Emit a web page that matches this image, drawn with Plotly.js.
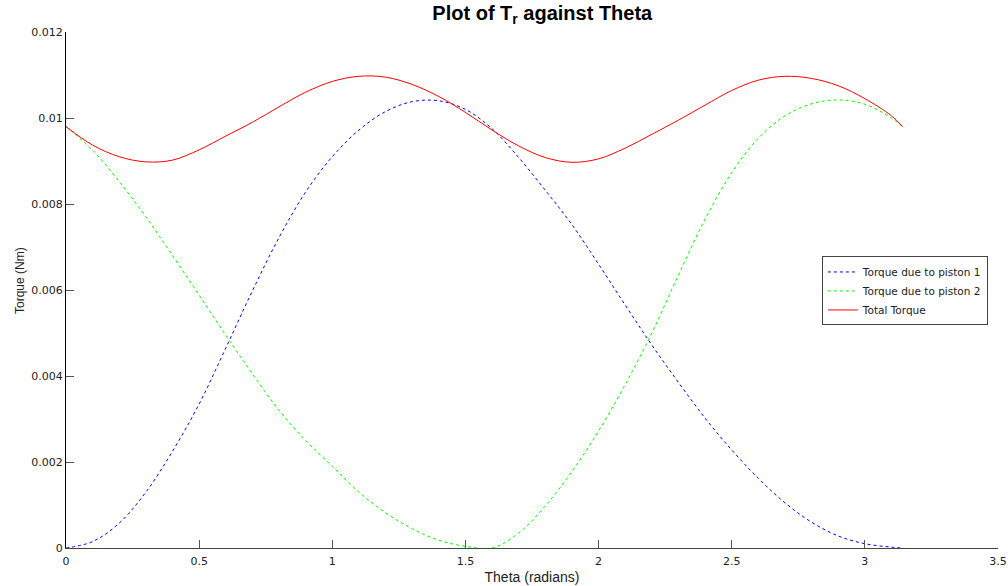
<!DOCTYPE html>
<html>
<head>
<meta charset="utf-8">
<script src="https://cdn.plot.ly/plotly-3.0.1.min.js"></script>
<style>html,body{margin:0;padding:0;background:#fff;}#chart{width:1008px;height:586px;}</style>
</head>
<body>
<div id="chart"></div>
<script>
// Theta (radians)
const theta = [0, 0.1, 0.2, 0.3, 0.4, 0.5, 0.6, 0.7, 0.8, 0.9, 1.0, 1.1, 1.2, 1.3, 1.4, 1.5, 1.6,
  1.7, 1.8, 1.9, 2.0, 2.1, 2.2, 2.3, 2.4, 2.5, 2.6, 2.7, 2.8, 2.9, 3.0, 3.1, 3.1416];
// Torque due to piston 1 (Nm)
const torquePiston1 = [0, 0.00015, 0.00058, 0.00130, 0.00225, 0.00335, 0.00465, 0.00598, 0.00722, 0.00828,
  0.00910, 0.00972, 0.01015, 0.01038, 0.01040, 0.01020, 0.00975, 0.00908, 0.00832, 0.00752, 0.00660,
  0.00565, 0.00472, 0.00385, 0.00302, 0.00228, 0.00162, 0.00105, 0.00060, 0.00028, 0.00010, 0.00002, 0];
// Torque due to piston 2 (Nm)
const torquePiston2 = [0.0098, 0.00925, 0.00852, 0.00770, 0.00680, 0.00588, 0.00495, 0.00405, 0.00320, 0.00250,
  0.00190, 0.00130, 0.00082, 0.00045, 0.00018, 0.00004, 0, 0.00035, 0.00098, 0.00178, 0.00272, 0.00380,
  0.00500, 0.00635, 0.00765, 0.00873, 0.00953, 0.01005, 0.01033, 0.01042, 0.01032, 0.01000, 0.0098];
// Total torque (Nm)
const torqueTotal = [0.0098, 0.00937, 0.0091, 0.00898, 0.00902, 0.00926, 0.00958, 0.0099, 0.01026, 0.0106,
  0.01085, 0.01097, 0.01095, 0.01078, 0.0105, 0.01013, 0.00972, 0.00935, 0.00908, 0.00897, 0.00905,
  0.0093, 0.00962, 0.00995, 0.0103, 0.01064, 0.01088, 0.01097, 0.01092, 0.01075, 0.01045, 0.01005, 0.0098];

const xTickVals = [0, 0.5, 1, 1.5, 2, 2.5, 3, 3.5];
const xTickText = ["0", "0.5", "1", "1.5", "2", "2.5", "3", "3.5"];
const yTickVals = [0, 0.002, 0.004, 0.006, 0.008, 0.01, 0.012];
const yTickText = ["0", "0.002", "0.004", "0.006", "0.008", "0.01", "0.012"];

const traces = [
  {x: theta, y: torquePiston1, mode: "lines", name: "Torque due to piston 1",
   line: {color: "#0000ff", width: 1, dash: "3px,3px", shape: "spline"}},
  {x: theta, y: torquePiston2, mode: "lines", name: "Torque due to piston 2",
   line: {color: "#00ff00", width: 1, dash: "3px,3px", shape: "spline"}},
  {x: theta, y: torqueTotal, mode: "lines", name: "Total Torque",
   line: {color: "#ff0000", width: 1, shape: "spline"}}
];

const layout = {
  width: 1008, height: 586,
  margin: {l: 66, r: 10, t: 32, b: 38, pad: 0},
  paper_bgcolor: "#ffffff", plot_bgcolor: "#ffffff",
  font: {family: "Arial, Liberation Sans, sans-serif", color: "#000"},
  title: {text: "<b>Plot of T<sub>r</sub> against Theta</b>", font: {size: 20, family: "Arial, Liberation Sans, sans-serif", color: "#000"},
          x: 0.538, xanchor: "center", y: 0.99, yanchor: "top"},
  xaxis: {range: [0, 3.5], tickvals: xTickVals, ticktext: xTickText, ticks: "inside", ticklen: 8,
          tickcolor: "#555", tickwidth: 1, showline: true, linecolor: "#444", linewidth: 1,
          showgrid: false, zeroline: false, ticklabelstandoff: 3,
          tickfont: {size: 11, family: "DejaVu Sans, sans-serif", color: "#222"},
          title: {text: "Theta (radians)", font: {size: 14, family: "Arial, Liberation Sans, sans-serif", color: "#222"}, standoff: 4}},
  yaxis: {range: [0, 0.012], tickvals: yTickVals, ticktext: yTickText, ticks: "inside", ticklen: 8,
          tickcolor: "#555", tickwidth: 1, showline: true, linecolor: "#000", linewidth: 1,
          showgrid: false, zeroline: false, tickfont: {size: 11, family: "DejaVu Sans, sans-serif", color: "#222"}},
  annotations: [
    {text: "Torque (Nm)", xref: "paper", yref: "paper", x: (20 - 66) / 932, y: (548 - 281) / 516,
     xanchor: "center", yanchor: "middle", textangle: -90, showarrow: false,
     font: {size: 12, family: "Arial, Liberation Sans, sans-serif", color: "#222"}}
  ],
  legend: {x: 0.811, y: 0.565, xanchor: "left", yanchor: "top", bgcolor: "#fff",
           bordercolor: "#444", borderwidth: 1, font: {size: 10.5, family: "DejaVu Sans, sans-serif", color: "#222"},
           tracegroupgap: 0, itemwidth: 30},
  showlegend: true
};

Plotly.newPlot("chart", traces, layout, {displayModeBar: false, staticPlot: true});
</script>
</body>
</html>
